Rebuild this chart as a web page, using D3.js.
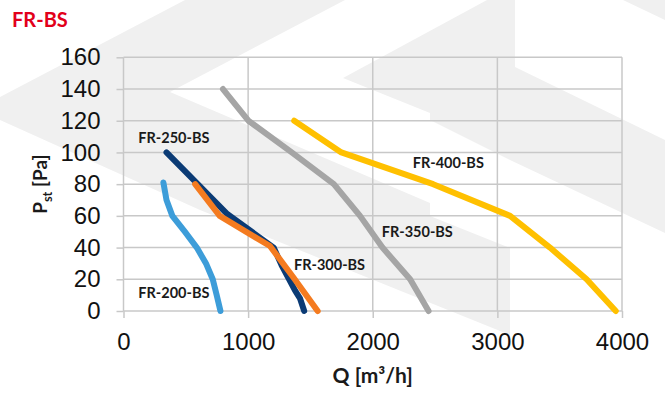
<!DOCTYPE html>
<html>
<head>
<meta charset="utf-8">
<script src="https://cdn.jsdelivr.net/npm/d3@7"></script>
<style>
  html, body { margin: 0; padding: 0; background: #ffffff; }
  svg { display: block; }
</style>
</head>
<body>
<svg id="chart" width="665" height="396"></svg>
<script>
// ---------------- data ----------------
const chartTitle = "FR-BS";
const xTicks = [0, 1000, 2000, 3000, 4000];
const yTicks = [0, 20, 40, 60, 80, 100, 120, 140, 160];
const xTitle = "Q [m³/h]";

const seriesNames = ["FR-200-BS", "FR-250-BS", "FR-300-BS", "FR-350-BS", "FR-400-BS"];

// [Q m3/h, Pst Pa]
const fr200 = [[320, 81], [345, 70], [392, 60], [492, 50], [588, 40], [662, 30], [716, 20], [748, 10], [778, 0]];
const fr250 = [[345, 100], [835, 61], [1205, 40], [1268, 29], [1376, 13], [1416, 8], [1450, 0]];
const fr300 = [[575, 80], [772, 60], [1175, 41], [1365, 21], [1558, 0]];
const fr350 = [[798, 140], [1002, 120], [1350, 100], [1688, 80], [1898, 60], [2078, 40], [2300, 20], [2448, 0]];
const fr400 = [[1370, 120], [1748, 100], [2485, 80], [3102, 60], [3422, 40], [3716, 20], [3950, 0]];

// label anchors in data units (Q, Pst)
const labelQ = [119, 119, 1368, 2072, 2321];
const labelP = [7.9, 105.7, 25.9, 46.7, 89.9];

const seriesColors = ["#3d9dd9", "#0b3b75", "#f47b20", "#a5a5a5", "#ffc000"];

// ---------------- chart ----------------
const svg = d3.select("#chart");

// background watermark (decorative logo shapes)
const wm = svg.append("g").attr("fill", "#f0f0f0");
const wmShapes = [
  [[185,0],[345,0],[170,92],[430,203],[430,216],[510,248],[510,335],[200,210],[0,120],[0,97]],
  [[343,78],[487,0],[515,0],[515,67],[665,140],[665,233],[510,160],[430,120],[430,113]],
  [[623,0],[665,0],[665,20]]
];
wmShapes.forEach(p => wm.append("polygon").attr("points", p.map(d => d.join(",")).join(" ")));

const x = d3.scaleLinear().domain([0, 4000]).range([123.5, 622]);
const y = d3.scaleLinear().domain([0, 160]).range([311, 57.3]);

// grid
const grid = svg.append("g").attr("stroke", "#c8c8c8").attr("stroke-width", 1.5);
grid.selectAll("line.h").data(yTicks).join("line")
  .attr("x1", x(0)).attr("x2", x(4000))
  .attr("y1", d => y(d)).attr("y2", d => y(d));
grid.selectAll("line.v").data(xTicks).join("line")
  .attr("x1", d => x(d)).attr("x2", d => x(d))
  .attr("y1", y(160)).attr("y2", y(0));

// axes
const yAxis = svg.append("g").attr("transform", `translate(${x(0)},0)`)
  .call(d3.axisLeft(y).tickValues(yTicks).tickSize(7).tickPadding(16).tickFormat(d3.format("d")));
const xAxis = svg.append("g").attr("transform", `translate(0,${y(0)})`)
  .call(d3.axisBottom(x).tickValues(xTicks).tickSize(7).tickPadding(15).tickFormat(d3.format("d")));
[yAxis, xAxis].forEach(a => {
  a.select(".domain").remove();
  a.selectAll(".tick line").attr("stroke", "#c8c8c8").attr("stroke-width", 1.5);
  a.selectAll(".tick text")
    .attr("fill", "#111")
    .style("font-family", "'Liberation Sans', Arial, sans-serif")
    .style("font-size", "24px");
});

// lines
const line = d3.line().x(d => x(d[0])).y(d => y(d[1]));
const allSeries = [fr200, fr250, fr300, fr350, fr400];
svg.append("g").selectAll("path").data(allSeries).join("path")
  .attr("d", d => line(d))
  .attr("fill", "none")
  .attr("stroke", (d, i) => seriesColors[i])
  .attr("stroke-width", 6)
  .attr("stroke-linejoin", "round")
  .attr("stroke-linecap", "round");

// series labels
svg.append("g").selectAll("text").data(seriesNames).join("text")
  .attr("x", (d, i) => x(labelQ[i]))
  .attr("y", (d, i) => y(labelP[i]))
  .text(d => d)
  .attr("fill", "#1a1a1a")
  .style("font-family", "Lato, 'Open Sans', sans-serif")
  .style("font-weight", "bold")
  .style("font-size", "14.5px");

// title
svg.append("text")
  .attr("x", 12).attr("y", 27)
  .text(chartTitle)
  .attr("fill", "#e2001a")
  .style("font-family", "Lato, 'Open Sans', sans-serif")
  .style("font-weight", "bold")
  .style("font-size", "20px");

// y title
const yt = svg.append("text")
  .attr("transform", `translate(47,${(y(0) + y(160)) / 2}) rotate(-90)`)
  .attr("text-anchor", "middle")
  .attr("fill", "#1a1a1a")
  .style("font-family", "Lato, 'Open Sans', sans-serif")
  .style("font-weight", "bold")
  .style("font-size", "19px");
yt.append("tspan").text("P");
yt.append("tspan").text("st").attr("dy", 5).style("font-size", "13px");
yt.append("tspan").text(" [Pa]").attr("dy", -5);

// x title
svg.append("text")
  .attr("x", (x(0) + x(4000)) / 2).attr("y", 383)
  .attr("text-anchor", "middle")
  .text(xTitle)
  .attr("fill", "#1a1a1a")
  .style("font-family", "Lato, 'Open Sans', sans-serif")
  .style("font-weight", "bold")
  .style("font-size", "21px");
</script>
</body>
</html>
